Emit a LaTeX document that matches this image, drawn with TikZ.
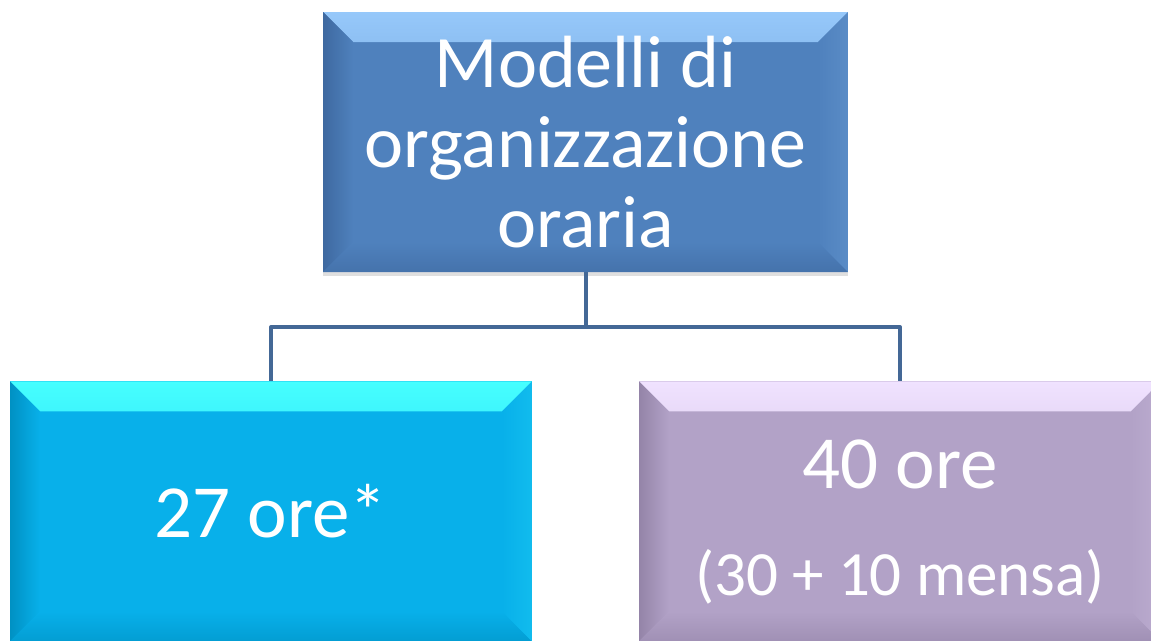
\documentclass[tikz,border=0pt]{standalone}
\usepackage{fontspec}
\setmainfont{Carlito}
\usetikzlibrary{positioning,shadows}

\definecolor{orablu}{RGB}{79,129,189}
\definecolor{orablulight}{RGB}{150,200,250}
\definecolor{orabludark}{RGB}{62,105,160}
\definecolor{oraciano}{RGB}{8,176,234}
\definecolor{oracianolight}{RGB}{70,255,255}
\definecolor{oracianodark}{RGB}{0,145,195}
\definecolor{oraviola}{RGB}{178,162,199}
\definecolor{oraviolalight}{RGB}{240,226,255}
\definecolor{oravioladark}{RGB}{148,132,168}
\definecolor{oralink}{RGB}{68,104,150}

\begin{document}
\begin{tikzpicture} [
		x=1pt, y=1pt,
		every node/.style={inner sep=0pt, text=white, align=center},
		node distance=109pt,
		bevelbox/.style n args={3}{fill=#1, minimum height=260pt,
			drop shadow={shadow xshift=0pt, shadow yshift=-4pt, opacity=0.25},
			path picture={
				\shade[top color=#2, bottom color=#1]
					(path picture bounding box.north west) -- (path picture bounding box.north east)
					-- ([shift={(-30pt,-30pt)}]path picture bounding box.north east)
					-- ([shift={(30pt,-30pt)}]path picture bounding box.north west) -- cycle;
				\shade[left color=#3, right color=#1]
					(path picture bounding box.north west) -- ([shift={(30pt,-30pt)}]path picture bounding box.north west)
					-- ([shift={(30pt,30pt)}]path picture bounding box.south west)
					-- (path picture bounding box.south west) -- cycle;
				\shade[bottom color=#3!60!#1, top color=#1]
					(path picture bounding box.south west) -- ([shift={(30pt,30pt)}]path picture bounding box.south west)
					-- ([shift={(-30pt,30pt)}]path picture bounding box.south east)
					-- (path picture bounding box.south east) -- cycle;
				\shade[right color=#2!15!#1, left color=#1]
					(path picture bounding box.north east) -- ([shift={(-30pt,-30pt)}]path picture bounding box.north east)
					-- ([shift={(-30pt,30pt)}]path picture bounding box.south east)
					-- (path picture bounding box.south east) -- cycle;
			}},
		rootbox/.style={bevelbox={orablu}{orablulight}{orabludark}, minimum width=525pt,
			font=\fontsize{74}{80}\selectfont},
		leftbox/.style={bevelbox={oraciano}{oracianolight}{oracianodark}, minimum width=522pt,
			font=\fontsize{75}{90}\selectfont},
		rightbox/.style={bevelbox={oraviola}{oraviolalight}{oravioladark}, minimum width=522pt,
			font=\fontsize{75}{104}\selectfont},
		link/.style={draw=oralink, line width=4pt, line join=round}
	]
	\useasboundingbox (0,0) rectangle (1151,-640);
	\clip (0,0) rectangle (1151,-640);

	\node (root) [rootbox] at (585.5,-142) {Modelli di\\organizzazione\\oraria};
	\node (ore27) [leftbox, below=of root, xshift=-314.5pt] {27 ore*};
	\node (ore40) [rightbox, below=of root, xshift=314.5pt]
		{\rule{0pt}{70pt}40 ore\\[3pt]{\fontsize{63}{104}\selectfont (30 + 10 mensa)}};

	\coordinate [below=55pt of root.south] (bus);
	\draw [link] (root.south) -- (bus) -| (ore27.north);
	\draw [link] (bus) -| (ore40.north);

\end{tikzpicture}
\end{document}
